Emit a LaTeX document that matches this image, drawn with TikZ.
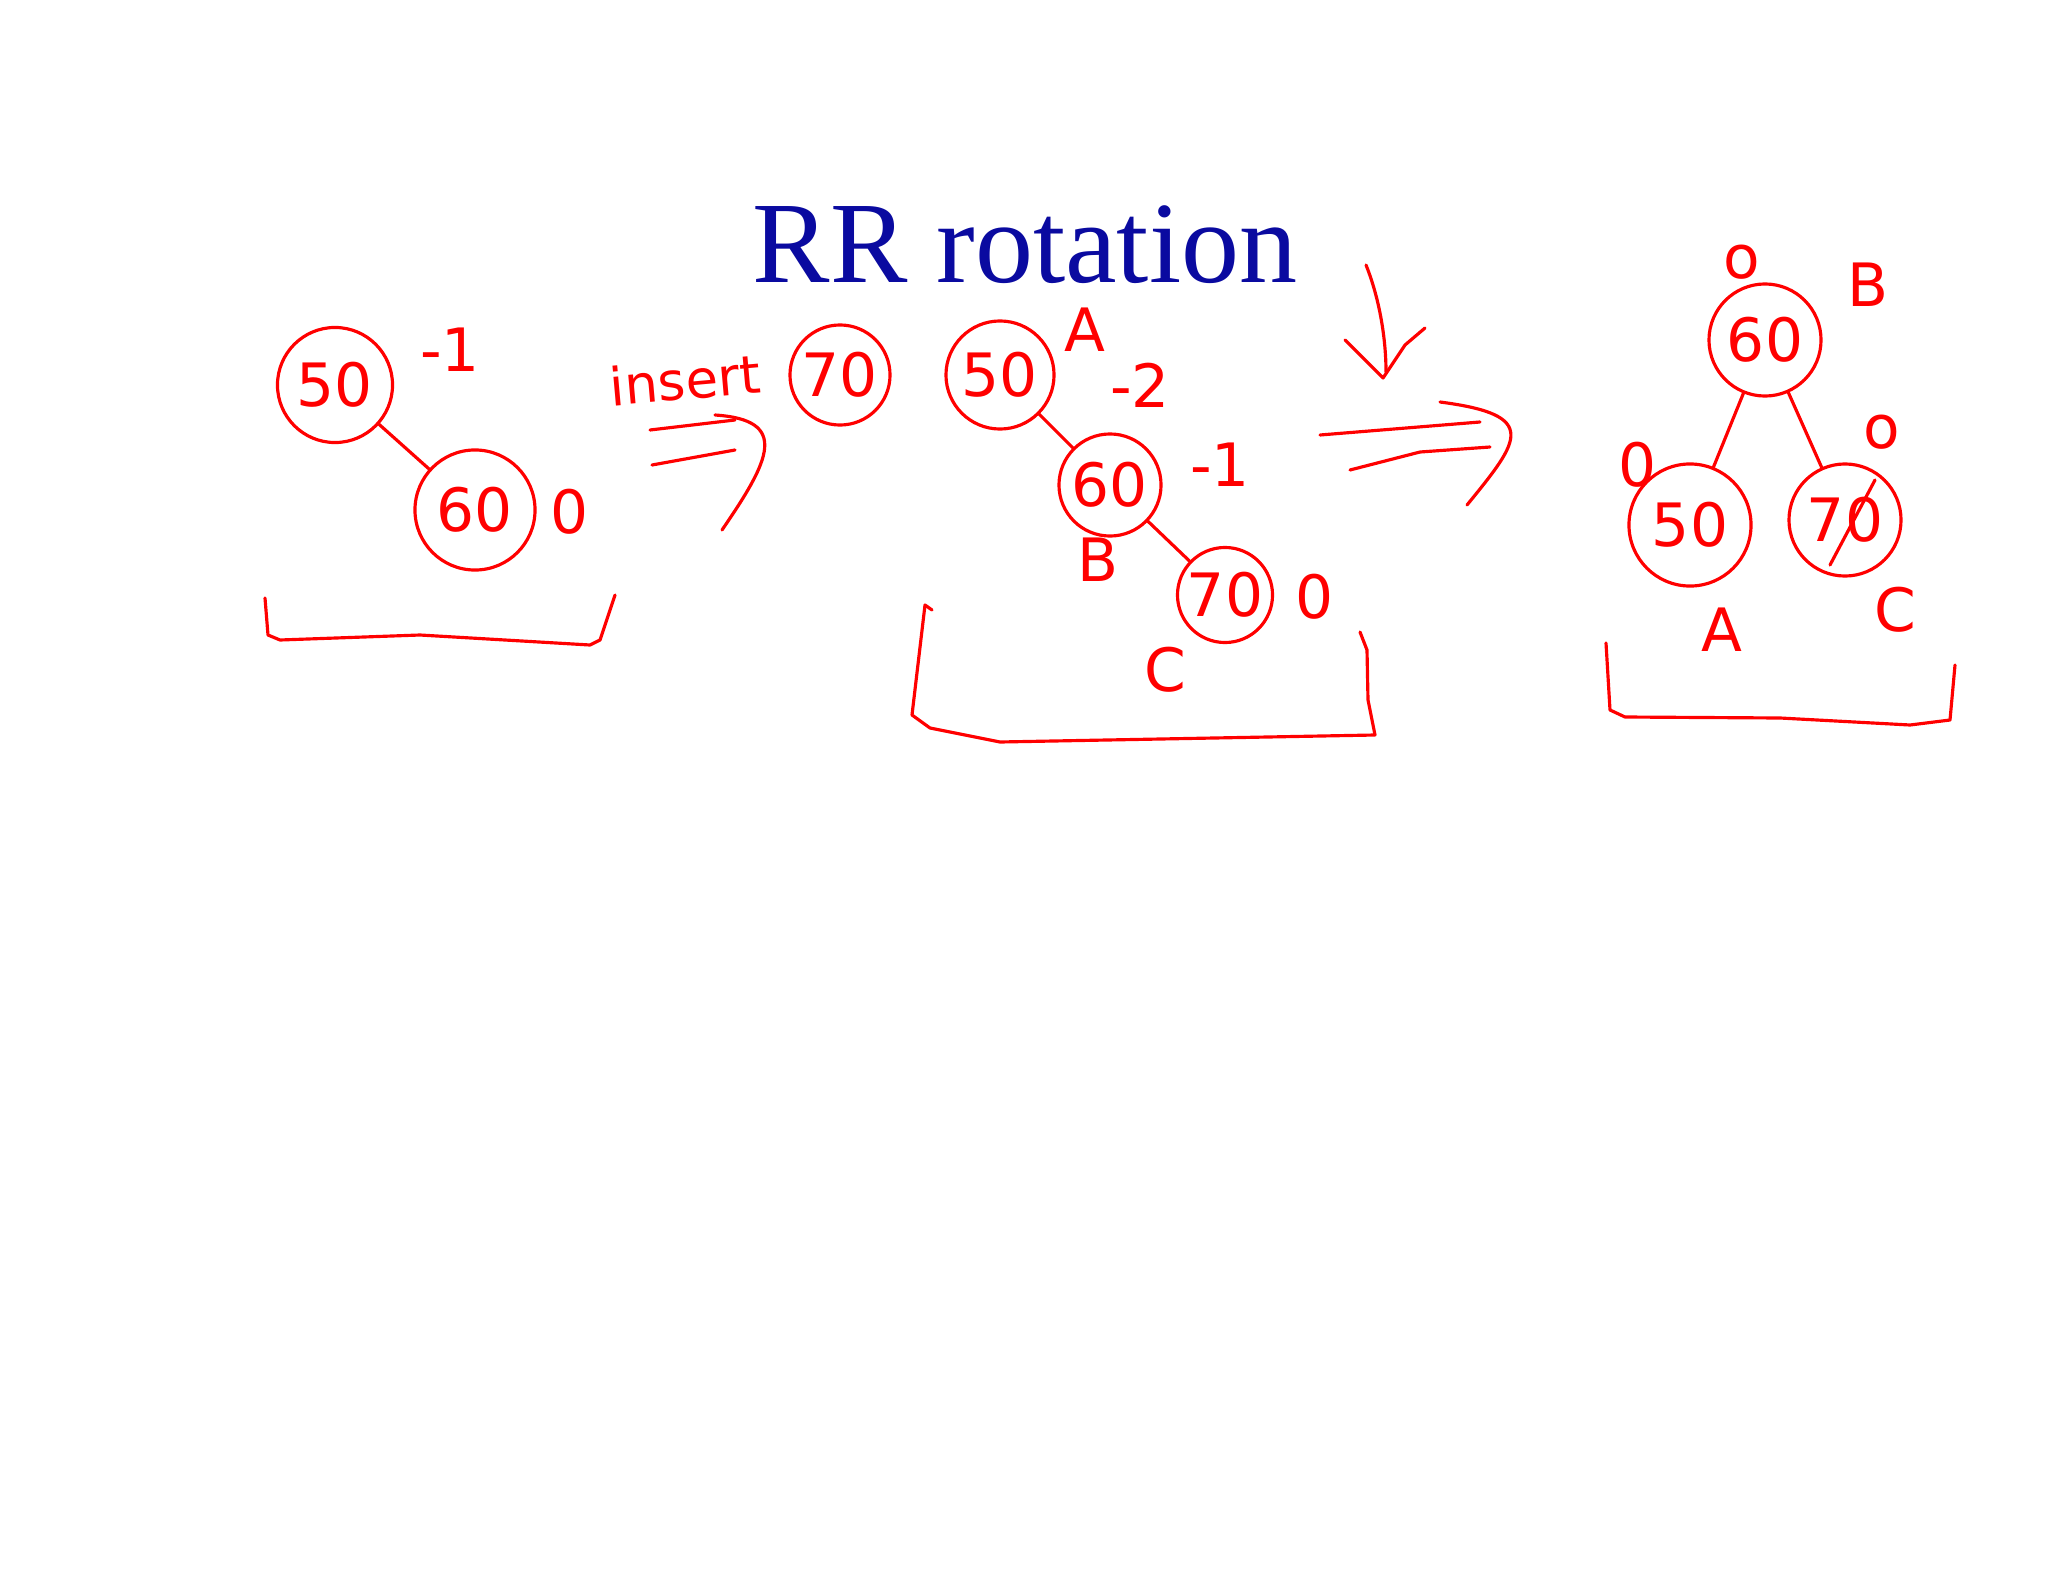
\documentclass[tikz,border=0pt]{standalone}
\usepackage{fontspec}
\setmainfont{Liberation Serif}
\newfontfamily\hand{DejaVu Sans}[Scale=1]
\begin{document}
\begin{tikzpicture}[x=0.01cm,y=-0.01cm,
  ink/.style={draw=red,line width=0.9pt,line cap=round,line join=round},
  nd/.style={circle,draw=red,line width=0.9pt,text=red,font=\hand\fontsize{17}{17}\selectfont,inner sep=0pt},
  lb/.style={text=red,font=\hand\fontsize{17}{17}\selectfont}]
\useasboundingbox (0,0) rectangle (2048,1582);
\node[text={rgb,255:red,10;green,10;blue,160},font=\fontsize{33}{33}\selectfont,inner sep=0pt] (title) at (1025,245) {RR rotation};
% tree 1
\node[nd,minimum size=1.15cm] (a50) at (335,385) {50};
\node[nd,minimum size=1.2cm] (a60) at (475,510) {60};
\draw[ink] (a50) -- (a60);
\node[lb] (am1) at (450,350) {-1};
\node[lb] (a0) at (570,512) {0};
\draw[ink] (265,598) -- (268,635) -- (280,640) -- (420,635) -- (590,645) -- (600,640) -- (615,595);
% insert
\node[lb,rotate=5,font=\hand\fontsize{15}{15}\selectfont] (ins) at (685,380) {insert};
\node[nd,minimum size=1.0cm] (i70) at (840,375) {70};
\draw[ink] (650,430) -- (735,420);
\draw[ink] (652,465) -- (735,450);
\coordinate (h1) at (715,415); \coordinate (h3) at (722,530);
\draw[ink] (h1) .. controls (790,420) and (770,460) .. (h3);
% tree 2
\node[nd,minimum size=1.08cm] (b50) at (1000,375) {50};
\node[nd,minimum size=1.02cm] (b60) at (1110,485) {60};
\node[nd,minimum size=0.95cm] (b70) at (1225,595) {70};
\draw[ink] (b50) -- (b60);
\draw[ink] (b60) -- (b70);
\node[lb,inner sep=1pt] (bA) at (1085,330) {A};
\node[lb] (bm2) at (1140,385) {-2};
\node[lb] (bm1) at (1220,465) {-1};
\node[lb] (bB) at (1098,560) {B};
\node[lb] (b0) at (1315,597) {0};
\node[lb] (bC) at (1165,670) {C};
\draw[ink] (932,610) -- (925,605) -- (912,715) -- (930,728) -- (1000,742) -- (1375,735) -- (1368,700) -- (1367,650) -- (1360,632);
% big arrow
\draw[ink] (1320,435) -- (1480,422);
\draw[ink] (1350,470) -- (1420,452) -- (1490,447);
\coordinate (g1) at (1440,402); \coordinate (g3) at (1467,505);
\draw[ink] (g1) .. controls (1540,415) and (1520,440) .. (g3);
\coordinate (d1) at (1366,265); \coordinate (d2) at (1386,372);
\draw[ink] (d1) .. controls (1380,300) and (1386,340) .. (d2);
\draw[ink] (1345,340) -- (1383,378) -- (1405,345) -- (1425,328);
% tree 3
\node[nd,minimum size=1.12cm] (c60) at (1765,340) {60};
\node[nd,minimum size=1.22cm] (c50) at (1690,525) {50};
\node[nd,minimum size=1.12cm] (c70) at (1845,520) {70};
\draw[ink] (c60) -- (c50);
\draw[ink] (c60) -- (c70);
\draw[ink] (1830,565) -- (1875,480);
\node[lb] (c0a) at (1742,262) {o};
\node[lb] (cB) at (1868,285) {B};
\node[lb] (c0b) at (1637,465) {0};
\node[lb] (c0c) at (1882,432) {o};
\node[lb] (cA) at (1722,630) {A};
\node[lb] (cC) at (1895,610) {C};
\draw[ink] (1606,643) -- (1610,710) -- (1625,717) -- (1780,718) -- (1910,725) -- (1950,720) -- (1955,665);
\end{tikzpicture}
\end{document}
